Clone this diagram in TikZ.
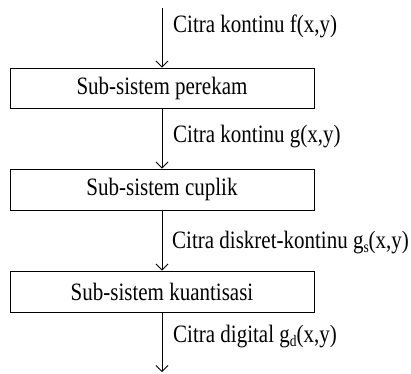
\documentclass[tikz,border=0pt]{standalone}
\usepackage{fontspec}
\setmainfont{Liberation Serif}[FakeStretch=0.84]
\usetikzlibrary{arrows.meta}
\newcommand{\lowsub}[1]{\raisebox{-4.5pt}{\fontsize{16}{16}\selectfont #1}}
\begin{document}
\begin{tikzpicture}[x=1pt,y=-1pt,
  blok/.style={draw, line width=0.9pt, minimum width=304pt, minimum height=40pt, inner sep=0pt, font=\fontsize{25}{28}\selectfont},
  lbl/.style={anchor=base west, inner sep=0pt, font=\fontsize{25}{28}\selectfont},
  panah/.style={-{Straight Barb[length=6pt,width=12pt]}, line width=0.8pt}]
\useasboundingbox (0,0) rectangle (411,373);
\coordinate (top) at (162,8);
\coordinate (bot) at (162,372);
\node[blok] (b1) at (162,88) {Sub-sistem perekam};
\node[blok, minimum height=41pt] (b2) at (162,189.5) {Sub-sistem cuplik};
\node[blok, minimum height=41pt] (b3) at (162,291.5) {Sub-sistem kuantisasi};
\draw[panah] (top) -- (b1.north);
\draw[panah] (b1.south) -- (b2.north);
\draw[panah] (b2.south) -- (b3.north);
\draw[panah] (b3.south) -- (bot);
\node[lbl] (l1) at (173,32) {Citra kontinu f(x,y)};
\node[lbl] (l2) at (173,142) {Citra kontinu g(x,y)};
\node[lbl] (l3) at (172,248) {Citra diskret-kontinu g\lowsub{s}(x,y)};
\node[lbl] (l4) at (173,342) {Citra digital g\lowsub{d}(x,y)};
\end{tikzpicture}
\end{document}
